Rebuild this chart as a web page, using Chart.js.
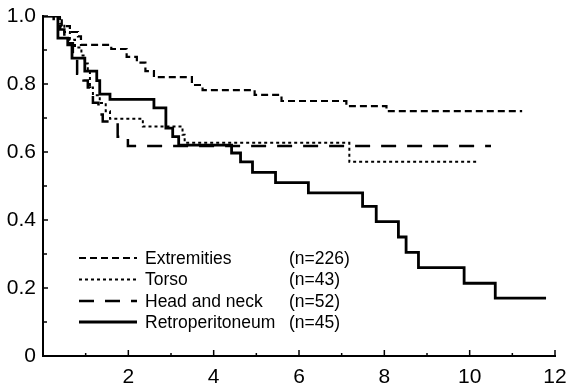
<!DOCTYPE html>
<html lang="en">
<head>
    <meta charset="UTF-8">
    <title>Survival by tumour site</title>
    <script src="https://cdn.jsdelivr.net/npm/chart.js"></script>
    <style>
        html, body { margin: 0; padding: 0; background: #fff; }
        #km { display: block; }
    </style>
</head>
<body>
    <canvas id="km" width="569" height="390"></canvas>
    <script>
        // time (years) and survival after each step
        const extT = [0, 0.44, 0.63, 0.82, 0.89, 1.6, 1.96, 2.2, 2.4, 2.6, 3.49, 3.74, 4.96, 5.59, 7.11, 8.05, 11.23];
        const extS = [1.0, 0.97, 0.953, 0.94, 0.915, 0.903, 0.88, 0.863, 0.838, 0.82, 0.797, 0.782, 0.768, 0.75, 0.735, 0.72, 0.72];

        const torT = [0, 0.4, 0.5, 0.63, 0.75, 0.9, 0.98, 1.05, 1.1, 1.17, 1.33, 1.47, 1.57, 2.34, 3.27, 3.32, 7.18, 10.18];
        const torS = [1.0, 0.977, 0.953, 0.93, 0.907, 0.884, 0.86, 0.837, 0.79, 0.767, 0.744, 0.72, 0.698, 0.675, 0.651, 0.627, 0.571, 0.571];

        const hnT = [0, 0.25, 0.4, 0.5, 0.6, 0.7, 0.8, 0.95, 1.05, 1.1, 1.17, 1.3, 1.4, 1.75, 1.99, 10.5];
        const hnS = [1.0, 0.98, 0.96, 0.94, 0.92, 0.885, 0.83, 0.81, 0.79, 0.77, 0.745, 0.71, 0.69, 0.645, 0.618, 0.618];

        const retT = [0, 0.35, 0.58, 0.68, 0.98, 1.26, 1.33, 1.57, 2.6, 2.88, 3.04, 3.18, 4.42, 4.63, 4.91, 5.45, 6.22, 7.49, 7.81, 8.33, 8.51, 8.8, 9.87, 10.6, 11.79];
        const retS = [1.0, 0.935, 0.915, 0.876, 0.838, 0.81, 0.77, 0.755, 0.73, 0.67, 0.645, 0.62, 0.597, 0.571, 0.54, 0.51, 0.48, 0.44, 0.395, 0.35, 0.305, 0.26, 0.214, 0.17, 0.17];

        const seriesNames = ["Extremities", "Torso", "Head and neck", "Retroperitoneum"];
        const seriesN = ["(n=226)", "(n=43)", "(n=52)", "(n=45)"];
        const xTicks = [2, 4, 6, 8, 10, 12];
        const yTicks = [0, 0.2, 0.4, 0.6, 0.8, 1.0];

        const dashes = [[7, 4], [3, 3], [15, 11], []];
        const widths = [2.2, 2, 2.5, 2.8];

        function pts(t, s) {
            return t.map((v, i) => ({ x: v, y: s[i] }));
        }

        const allData = [pts(extT, extS), pts(torT, torS), pts(hnT, hnS), pts(retT, retS)];

        const datasets = allData.map((d, i) => ({
            label: seriesNames[i],
            data: d,
            stepped: 'before',
            borderColor: '#000',
            borderWidth: widths[i],
            borderDash: dashes[i],
            pointRadius: 0,
            fill: false
        }));

        // inward ticks + legend drawn on top
        const extras = {
            id: 'extras',
            afterDraw(chart) {
                const ctx = chart.ctx;
                const xs = chart.scales.x, ys = chart.scales.y;
                const x0 = xs.getPixelForValue(0), y0 = ys.getPixelForValue(0);
                ctx.save();
                ctx.strokeStyle = '#000';
                ctx.lineWidth = 1.5;
                ctx.setLineDash([]);
                for (let v = 1; v <= 12; v++) {
                    const px = xs.getPixelForValue(v);
                    const len = v % 2 === 0 ? 6 : 3;
                    ctx.beginPath();
                    ctx.moveTo(px, y0);
                    ctx.lineTo(px, y0 - len);
                    ctx.stroke();
                }
                for (let k = 1; k <= 10; k++) {
                    const py = ys.getPixelForValue(k / 10);
                    const len = k % 2 === 0 ? 5 : 4;
                    ctx.beginPath();
                    ctx.moveTo(x0, py);
                    ctx.lineTo(x0 + len, py);
                    ctx.stroke();
                }

                // legend
                const rowY = [259, 280.5, 302, 323];
                ctx.font = '17.5px "Liberation Sans", Arial, sans-serif';
                ctx.fillStyle = '#000';
                ctx.textBaseline = 'middle';
                seriesNames.forEach((name, i) => {
                    const y = rowY[i] - 1;
                    ctx.lineWidth = widths[i];
                    ctx.setLineDash(dashes[i]);
                    ctx.beginPath();
                    ctx.moveTo(79, y);
                    ctx.lineTo(137, y);
                    ctx.stroke();
                    ctx.setLineDash([]);
                    ctx.fillText(name, 145, rowY[i]);
                    ctx.fillText(seriesN[i], 289, rowY[i]);
                });
                ctx.restore();
            }
        };

        new Chart(document.getElementById('km'), {
            type: 'line',
            data: { datasets: datasets },
            options: {
                responsive: false,
                animation: false,
                devicePixelRatio: 1,
                layout: { padding: { top: 16, right: 14, left: 0, bottom: 0 } },
                plugins: {
                    legend: { display: false },
                    tooltip: { enabled: false }
                },
                scales: {
                    x: {
                        type: 'linear',
                        min: 0,
                        max: 12,
                        afterBuildTicks(scale) {
                            scale.ticks = xTicks.map(v => ({ value: v }));
                        },
                        afterFit(scale) {
                            scale.height = 34;
                            scale.paddingLeft = 0;
                            scale.paddingRight = 0;
                        },
                        grid: { display: false, drawTicks: false },
                        border: { display: true, color: '#000', width: 2 },
                        ticks: {
                            color: '#000',
                            padding: 9,
                            maxRotation: 0,
                            autoSkip: false,
                            font: { family: '"Liberation Sans", Arial, sans-serif', size: 21 }
                        }
                    },
                    y: {
                        min: 0,
                        max: 1,
                        afterBuildTicks(scale) {
                            scale.ticks = yTicks.map(v => ({ value: v }));
                        },
                        afterFit(scale) {
                            scale.width = 43;
                            scale.paddingTop = 0;
                            scale.paddingBottom = 0;
                        },
                        grid: { display: false, drawTicks: false },
                        border: { display: true, color: '#000', width: 2 },
                        ticks: {
                            color: '#000',
                            padding: 7,
                            autoSkip: false,
                            font: { family: '"Liberation Sans", Arial, sans-serif', size: 21 },
                            callback: v => v === 0 ? '0' : v.toFixed(1)
                        }
                    }
                }
            },
            plugins: [extras]
        });
    </script>
</body>
</html>
